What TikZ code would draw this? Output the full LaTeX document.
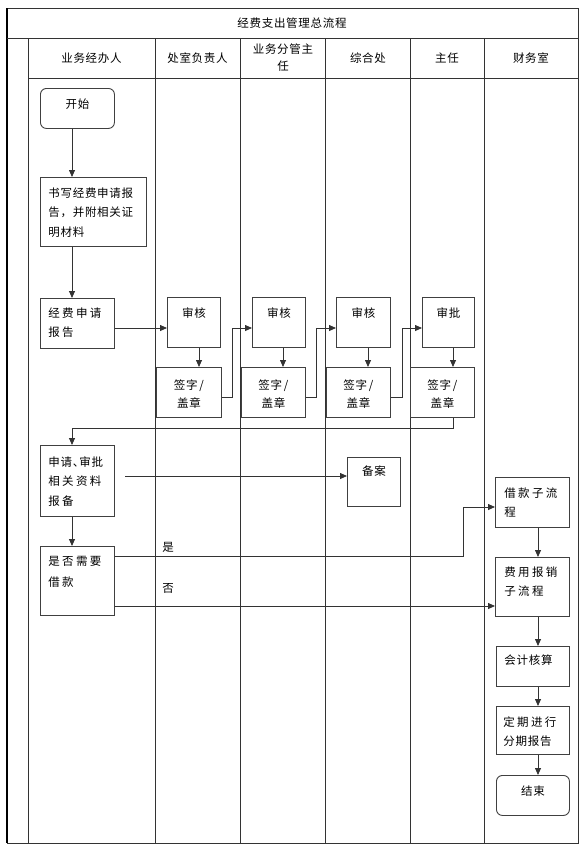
\documentclass[tikz,border=0pt]{standalone}
\usepackage{fontspec}
\setmainfont{Noto Sans CJK SC}
\newfontfamily\cjkn[LetterSpace=6]{Noto Sans CJK SC}
\newfontfamily\cjkw[LetterSpace=20]{Noto Sans CJK SC}
\usetikzlibrary{arrows.meta,calc}
\newcommand\bx[4]{\parbox[c][#2pt][t]{#1pt}{\vspace*{#3pt}\fontsize{11.5}{19.5}\selectfont#4\par}}
\tikzset{
  gridline/.style={draw=black!80,line width=0.9pt},
  box/.style={draw=black!75,line width=0.9pt,fill=white,inner ysep=0pt,anchor=north west},
  rbox/.style={box,rounded corners=6pt},
  arr/.style={draw=black!80,line width=0.8pt,-{Triangle[length=7pt,width=6pt]}},
  conn/.style={draw=black!80,line width=0.8pt},
  head/.style={font=\cjkn\fontsize{11.5}{17}\selectfont,align=center,inner sep=0pt},
  lbl/.style={font=\cjkn\fontsize{11.5}{14}\selectfont,inner sep=0pt}
}
\begin{document}
\begin{tikzpicture}[x=1pt,y=-1pt]
\useasboundingbox (0,0) rectangle (585,849);
% table frame
\draw[gridline] (7,8) rectangle (578,843);
\draw[draw=black,line width=1.1pt] (7,8) -- (7,843);
\draw[gridline] (7,38) -- (578,38);
\draw[gridline] (28,78) -- (578,78);
\foreach \xx in {28,155,240,325,410,484} {\draw[gridline] (\xx,38) -- (\xx,843);}
% headers
\node[head] (title) at (292,23) {经费支出管理总流程};
\node[head] (h1) at (91.5,58) {业务经办人};
\node[head] (h2) at (197.5,58) {处室负责人};
\node[head] (h3) at (283,58) {业务分管主\\任};
\node[head] (h4) at (368,58) {综合处};
\node[head] (h5) at (447,58) {主任};
\node[head] (h6) at (531,58) {财务室};
% boxes
\node[rbox,inner xsep=5pt,minimum width=74pt,minimum height=40pt] (start) at (40,88) {\bx{64}{40}{10}{\centering\cjkn 开始}};
\node[box,inner xsep=8pt,minimum width=106pt,minimum height=69pt] (write) at (40,177) {\bx{90}{69}{10}{\raggedright\cjkn 书写经费申请报\\告，并附相关证\\明材料}};
\node[box,inner xsep=8pt,minimum width=74pt,minimum height=50pt] (apply) at (40,298) {\bx{58}{50}{9}{\raggedright\cjkw 经费申请\\报告}};
\node[box,inner xsep=2pt,minimum width=53pt,minimum height=50pt] (sh1) at (167,297) {\bx{49}{50}{10}{\centering\cjkn 审核}};
\node[box,inner xsep=2pt,minimum width=65pt,minimum height=50pt] (sig1) at (156,367) {\bx{61}{50}{12}{\centering\cjkn\baselineskip=18pt 签字\,/\\盖章}};
\node[box,inner xsep=2pt,minimum width=53pt,minimum height=50pt] (sh2) at (252,297) {\bx{49}{50}{10}{\centering\cjkn 审核}};
\node[box,inner xsep=2pt,minimum width=64pt,minimum height=50pt] (sig2) at (241,367) {\bx{60}{50}{12}{\centering\cjkn\baselineskip=18pt 签字\,/\\盖章}};
\node[box,inner xsep=2pt,minimum width=54pt,minimum height=50pt] (sh3) at (336,297) {\bx{50}{50}{10}{\centering\cjkn 审核}};
\node[box,inner xsep=2pt,minimum width=64pt,minimum height=50pt] (sig3) at (326,367) {\bx{60}{50}{12}{\centering\cjkn\baselineskip=18pt 签字\,/\\盖章}};
\node[box,inner xsep=2pt,minimum width=52pt,minimum height=50pt] (sp) at (422,297) {\bx{48}{50}{10}{\centering\cjkn 审批}};
\node[box,inner xsep=2pt,minimum width=64pt,minimum height=50pt] (sig4) at (410,367) {\bx{60}{50}{12}{\centering\cjkn\baselineskip=18pt 签字\,/\\盖章}};
\node[box,inner xsep=8pt,minimum width=74pt,minimum height=71pt] (report) at (40,445) {\bx{58}{71}{11}{\raggedright{\cjkn 申请、\kern-5pt审批}\\{\cjkw 相关资料}\\{\cjkw 报备}}};
\node[box,inner xsep=2pt,minimum width=53pt,minimum height=49pt] (file) at (347,457) {\bx{49}{49}{8}{\centering\cjkn 备案}};
\node[box,inner xsep=8pt,minimum width=74pt,minimum height=69pt] (dec) at (40,546) {\bx{58}{69}{10}{\raggedright\cjkw\baselineskip=21pt 是否需要\\借款}};
\node[box,inner xsep=9pt,minimum width=74pt,minimum height=50pt] (borrow) at (495,477) {\bx{56}{50}{10}{\raggedright\cjkw 借款子流\\程}};
\node[box,inner xsep=9pt,minimum width=74pt,minimum height=59pt] (reimb) at (495,557) {\bx{56}{59}{9}{\raggedright\cjkw 费用报销\\子流程}};
\node[box,inner xsep=8pt,minimum width=73pt,minimum height=40pt] (acct) at (496,646) {\bx{57}{40}{8}{\raggedright\cjkn 会计核算}};
\node[box,inner xsep=7pt,minimum width=73pt,minimum height=48pt] (period) at (496,706) {\bx{59}{48}{10}{\raggedright\baselineskip=19pt{\cjkw 定期进行}\\{\cjkn 分期报告}}};
\node[rbox,inner xsep=5pt,minimum width=73pt,minimum height=40pt] (end) at (496,775) {\bx{63}{40}{10}{\centering\cjkn 结束}};
% labels
\node[lbl] (yes) at (168,547) {是};
\node[lbl] (no) at (168,588) {否};
% helper coordinates
\coordinate (lx) at (72,0);
\coordinate (rx) at (538,0);
\coordinate (d1) at (199,0);
\coordinate (d2) at (283,0);
\coordinate (d3) at (368,0);
\coordinate (d4) at (453,0);
\coordinate (ya) at (0,328);
\coordinate (yb) at (0,397);
\coordinate (fa) at (125,476);
\coordinate (ys) at (0,556);
\coordinate (yt) at (0,507);
\coordinate (xs) at (463,0);
\coordinate (yn) at (0,606);
% connectors
\draw[arr] (start.south -| lx) -- (write.north -| lx);
\draw[arr] (write.south -| lx) -- (apply.north -| lx);
\draw[arr] (apply.east |- ya) -- (sh1.west |- ya);
\draw[arr] (sh1.south -| d1) -- (sig1.north -| d1);
\draw[arr] (sh2.south -| d2) -- (sig2.north -| d2);
\draw[arr] (sh3.south -| d3) -- (sig3.north -| d3);
\draw[arr] (sp.south -| d4) -- (sig4.north -| d4);
\draw[arr] (sig1.east |- yb) -- ++(10,0) |- (sh2.west |- ya);
\draw[arr] (sig2.east |- yb) -- ++(10,0) |- (sh3.west |- ya);
\draw[arr] (sig3.east |- yb) -- ++(11,0) |- (sp.west |- ya);
\draw[arr] (sig4.south -| d4) -- ++(0,10) -| (report.north -| lx);
\draw[arr] (fa) -- (fa -| file.west);
\draw[arr] (report.south -| lx) -- (dec.north -| lx);
\draw[arr] (dec.east |- ys) -- (xs |- ys) -- (xs |- yt) -- (borrow.west |- yt);
\draw[arr] (dec.east |- yn) -- (reimb.west |- yn);
\draw[arr] (borrow.south -| rx) -- (reimb.north -| rx);
\draw[arr] (reimb.south -| rx) -- (acct.north -| rx);
\draw[arr] (acct.south -| rx) -- (period.north -| rx);
\draw[arr] (period.south -| rx) -- (end.north -| rx);
\end{tikzpicture}
\end{document}
